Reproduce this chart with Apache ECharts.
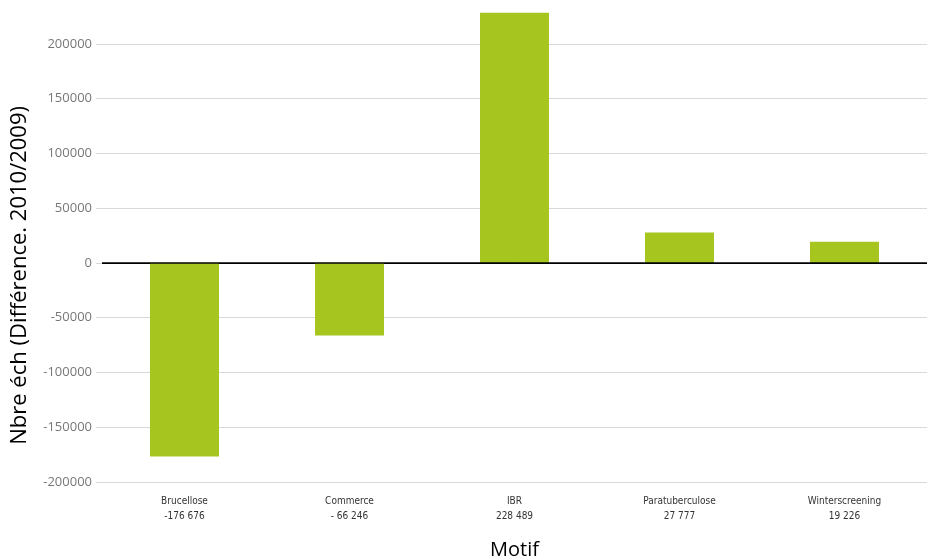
<!DOCTYPE html>
<html>
<head>
<meta charset="utf-8">
<script src="https://cdn.jsdelivr.net/npm/echarts@6/dist/echarts.min.js"></script>
<style>
html,body{margin:0;padding:0;background:#fff;}
#chart{width:930px;height:558px;}
</style>
</head>
<body>
<div id="chart"></div>
<script>
var categories = ['Brucellose', 'Commerce', 'IBR', 'Paratuberculose', 'Winterscreening'];
var values = [-176676, -66246, 228489, 27777, 19226];
var valueLabels = ['-176 676', '- 66 246', '228 489', '27 777', '19 226'];
var yTicks = [-200000, -150000, -100000, -50000, 0, 50000, 100000, 150000, 200000];

var gridColor = '#d9d9d9';
var splitColors = yTicks.map(function (t) { return t === 0 ? '#000000' : gridColor; });

var chart = echarts.init(document.getElementById('chart'), null, {renderer: 'canvas'});
chart.setOption({
  animation: false,
  backgroundColor: '#ffffff',
  grid: {left: 102, right: 3, top: 11, bottom: 76, containLabel: false, outerBoundsMode: 'none'},
  graphic: [{
    type: 'text',
    left: 9,
    top: 106,
    rotation: Math.PI / 2,
    style: {
      text: 'Nbre éch (Différence. 2010/2009)',
      font: '22px "Open Sans", "Noto Sans", sans-serif',
      fill: '#000000'
    }
  }],
  xAxis: {
    type: 'category',
    data: categories,
    name: 'Motif',
    nameLocation: 'middle',
    nameGap: 58,
    nameTextStyle: {fontSize: 20, color: '#000', fontFamily: '"Open Sans", "Noto Sans", sans-serif'},
    axisLine: {show: false, onZero: false},
    axisTick: {show: false},
    splitLine: {show: false},
    axisLabel: {
      margin: 12,
      interval: 0,
      fontSize: 10,
      lineHeight: 15,
      color: '#333333',
      fontFamily: '"DejaVu Sans Condensed", "Liberation Sans Narrow", sans-serif',
      formatter: function (v, i) { return v + '\n' + valueLabels[i]; }
    }
  },
  yAxis: {
    type: 'value',
    min: -200000,
    max: 230000,
    interval: 50000,
    axisLine: {show: false},
    axisTick: {show: true, length: 6, lineStyle: {color: gridColor, width: 1}},
    axisLabel: {
      margin: 10,
      fontSize: 13,
      color: '#777777',
      fontFamily: '"Open Sans", "Noto Sans", sans-serif',
      showMaxLabel: false,
      formatter: function (v) { return String(v); }
    },
    splitLine: {show: true, showMaxLine: false, lineStyle: {color: splitColors, width: 1}}
  },
  series: [{
    type: 'bar',
    data: values,
    barWidth: 69,
    itemStyle: {color: '#a6c51e'},
    markLine: {
      silent: true,
      symbol: 'none',
      label: {show: false},
      lineStyle: {color: '#000000', type: 'solid', width: 1.5},
      data: [{yAxis: 0}]
    }
  }]
});
</script>
</body>
</html>
